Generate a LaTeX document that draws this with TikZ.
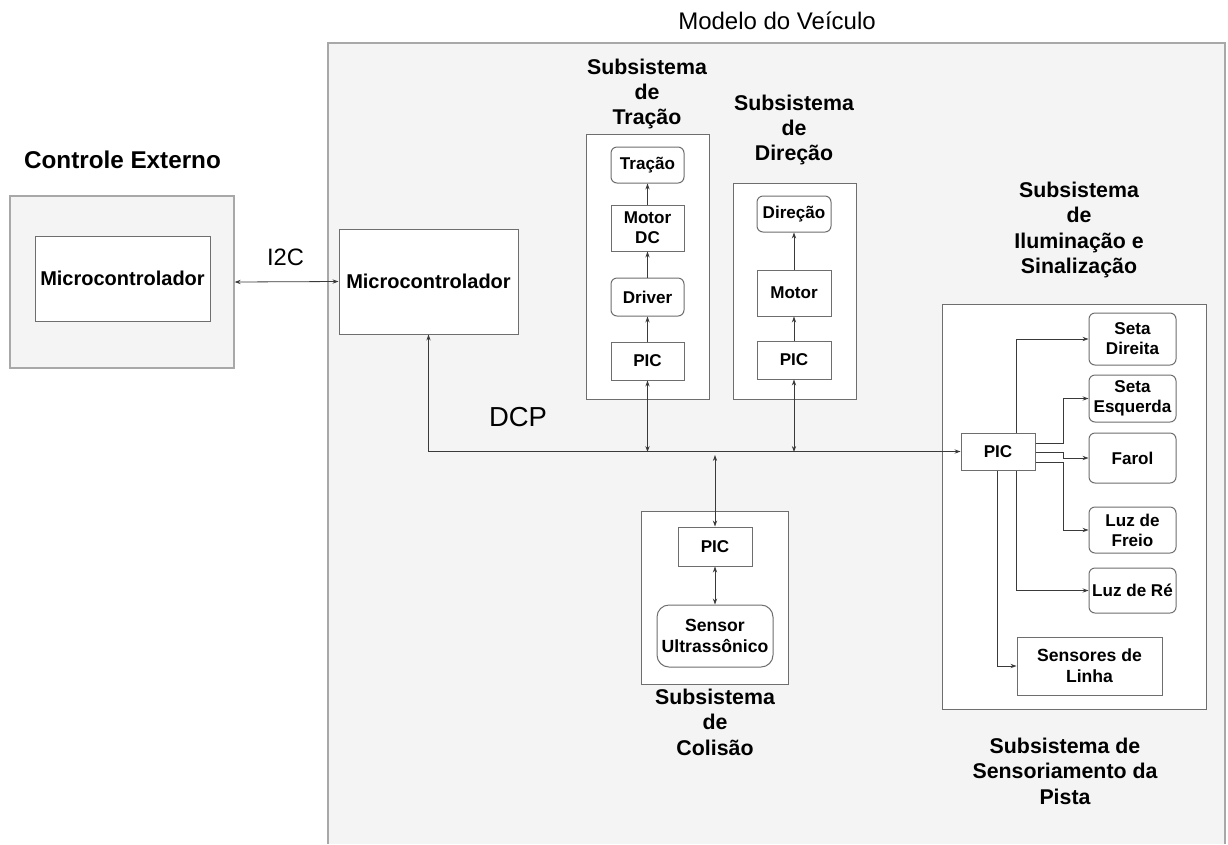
\documentclass[tikz,border=0pt]{standalone}
\usepackage{fontspec}
\setmainfont{Liberation Sans}
\usetikzlibrary{arrows.meta,calc}
\definecolor{panel}{HTML}{F4F4F4}
\definecolor{edge}{HTML}{6E6E6E}
\definecolor{softedge}{HTML}{A8A8A8}
\definecolor{wire}{HTML}{3A3A3A}
\begin{document}
\begin{tikzpicture}[x=0.75pt,y=-0.75pt,
  sz/.style 2 args={minimum width=#1*0.75pt, minimum height=#2*0.75pt},
  blk/.style={draw=edge, fill=white, line width=0.75pt, inner sep=0pt, align=center,
              font=\fontsize{12.8}{15}\selectfont\bfseries},
  rblk/.style={blk, rounded corners=4.5pt},
  subframe/.style={draw=edge, fill=white, line width=0.75pt, inner sep=0pt},
  title/.style={align=center, font=\fontsize{16}{19.1}\selectfont\bfseries},
  tip/.tip={Stealth[length=4.5pt,width=3.2pt]},
  link/.style={draw=wire, line width=0.6pt, -tip},
  dlink/.style={draw=wire, line width=0.6pt, tip-tip},
]
\useasboundingbox (0,0) rectangle (1228,844);
\fill[white] (0,0) rectangle (1228,844);

% vehicle model area (open at the bottom)
\fill[panel] (328,43) rectangle (1225,844);
\draw[softedge, line width=0.9pt] (328,844) -- (328,43) -- (1225,43) -- (1225,844);
\node[font=\fontsize{18}{21}\selectfont] (modelo) at (777,21) {Modelo do Veículo};

% external controller
\node[font=\fontsize{18.2}{21}\selectfont\bfseries] (extTitle) at (122.5,160) {Controle Externo};
\node[draw=softedge, fill=panel, line width=0.9pt, sz={224}{172}] (extOuter) at (122,282) {};
\node[blk, sz={175}{85}, font=\fontsize{15}{18}\selectfont\bfseries] (extMCU) at (122.5,278.5) {Microcontrolador};

% on-board microcontroller
\node[blk, sz={179}{105}, font=\fontsize{15}{18}\selectfont\bfseries] (mcu) at (428.5,281.5) {Microcontrolador};
\node[font=\fontsize{17.8}{21}\selectfont] (i2c) at (285.5,257) {I2C};
\node[font=\fontsize{20.6}{24}\selectfont] (dcp) at (518,417) {DCP};

% traction subsystem
\node[title] (tracTitle) at (647,94) {Subsistema\\de\\Tração};
\node[subframe, sz={123}{265}] (tracBox) at (647.5,266.5) {};
\node[rblk, sz={73}{36}] (tracao) at (647.5,165) {Tração};
\node[blk, sz={73}{46}] (motordc) at (647.5,228) {Motor\\DC};
\node[rblk, sz={73}{38}] (driver) at (647.5,297) {Driver};
\node[blk, sz={73}{38}] (picT) at (647.5,361) {PIC};

% steering subsystem
\node[title] (dirTitle) at (794,130) {Subsistema\\de\\Direção};
\node[subframe, sz={123}{216}] (dirBox) at (794.5,291) {};
\node[rblk, sz={74}{36}] (direcao) at (794,214) {Direção};
\node[blk, sz={74}{46}] (motor) at (794,293) {Motor};
\node[blk, sz={74}{38}] (picD) at (794,360) {PIC};

% collision subsystem
\node[subframe, sz={147}{173}] (colBox) at (714.5,597.5) {};
\node[blk, sz={74}{39}] (picC) at (715,546.5) {PIC};
\node[rblk, rounded corners=9pt, sz={116}{62}, font=\fontsize{13.2}{15.5}\selectfont\bfseries] (sensorU) at (715,636) {Sensor\\Ultrassônico};
\node[title] (colTitle) at (715,722) {Subsistema\\de\\Colisão};

% lighting / track sensing subsystem
\node[title] (lumTitle) at (1079,230) {Subsistema\\de\\Iluminação e\\Sinalização};
\node[subframe, sz={264}{405}] (lumBox) at (1074,506.5) {};
\node[blk, sz={74}{37}] (picL) at (998,451.5) {PIC};
\node[rblk, sz={87}{52}] (setaD) at (1132.5,339) {Seta\\Direita};
\node[rblk, sz={87}{47}] (setaE) at (1132.5,398.5) {Seta\\Esquerda};
\node[rblk, sz={87}{50}] (farol) at (1132.5,458) {Farol};
\node[rblk, sz={87}{46}] (freio) at (1132.5,530) {Luz de\\Freio};
\node[rblk, sz={87}{45}] (re) at (1132.5,590.5) {Luz de Ré};
\node[blk, sz={145}{58}, font=\fontsize{13.2}{15.8}\selectfont\bfseries] (sensL) at (1089.5,666) {Sensores de\\Linha};
\node[title] (pistaTitle) at (1065,771) {Subsistema de\\Sensoriamento da\\Pista};

% bus taps
\coordinate (busT) at (647.5,452);
\coordinate (busD) at (794,452);
\coordinate (busC) at (715,455);

% I2C link
\draw[dlink] (extOuter.east) -- (mcu.west);

% DCP bus
\draw[dlink] (mcu.south) |- (picL.west);
\draw[dlink] (picT.south) -- (busT);
\draw[dlink] (picD.south) -- (busD);
\draw[dlink] (busC) -- (picC.north);

% traction chain
\draw[link] (picT) -- (driver);
\draw[link] (driver) -- (motordc);
\draw[link] (motordc) -- (tracao);

% steering chain
\draw[link] (picD) -- (motor);
\draw[link] (motor) -- (direcao);

% collision chain
\draw[dlink] (picC) -- (sensorU);

% lighting outputs
\draw[link] ($(picL.north)+(18,0)$) |- (setaD.west);
\draw[link] ($(picL.east)+(0,-8.5)$) -- ++(28,0) |- (setaE.west);
\draw[link] ($(picL.east)+(0,0.5)$) -- ++(28,0) |- (farol.west);
\draw[link] ($(picL.east)+(0,10.5)$) -- ++(28,0) |- (freio.west);
\draw[link] ($(picL.south)+(18,0)$) |- (re.west);
\draw[link] ($(picL.south)+(-1,0)$) |- (sensL.west);
\end{tikzpicture}
\end{document}
